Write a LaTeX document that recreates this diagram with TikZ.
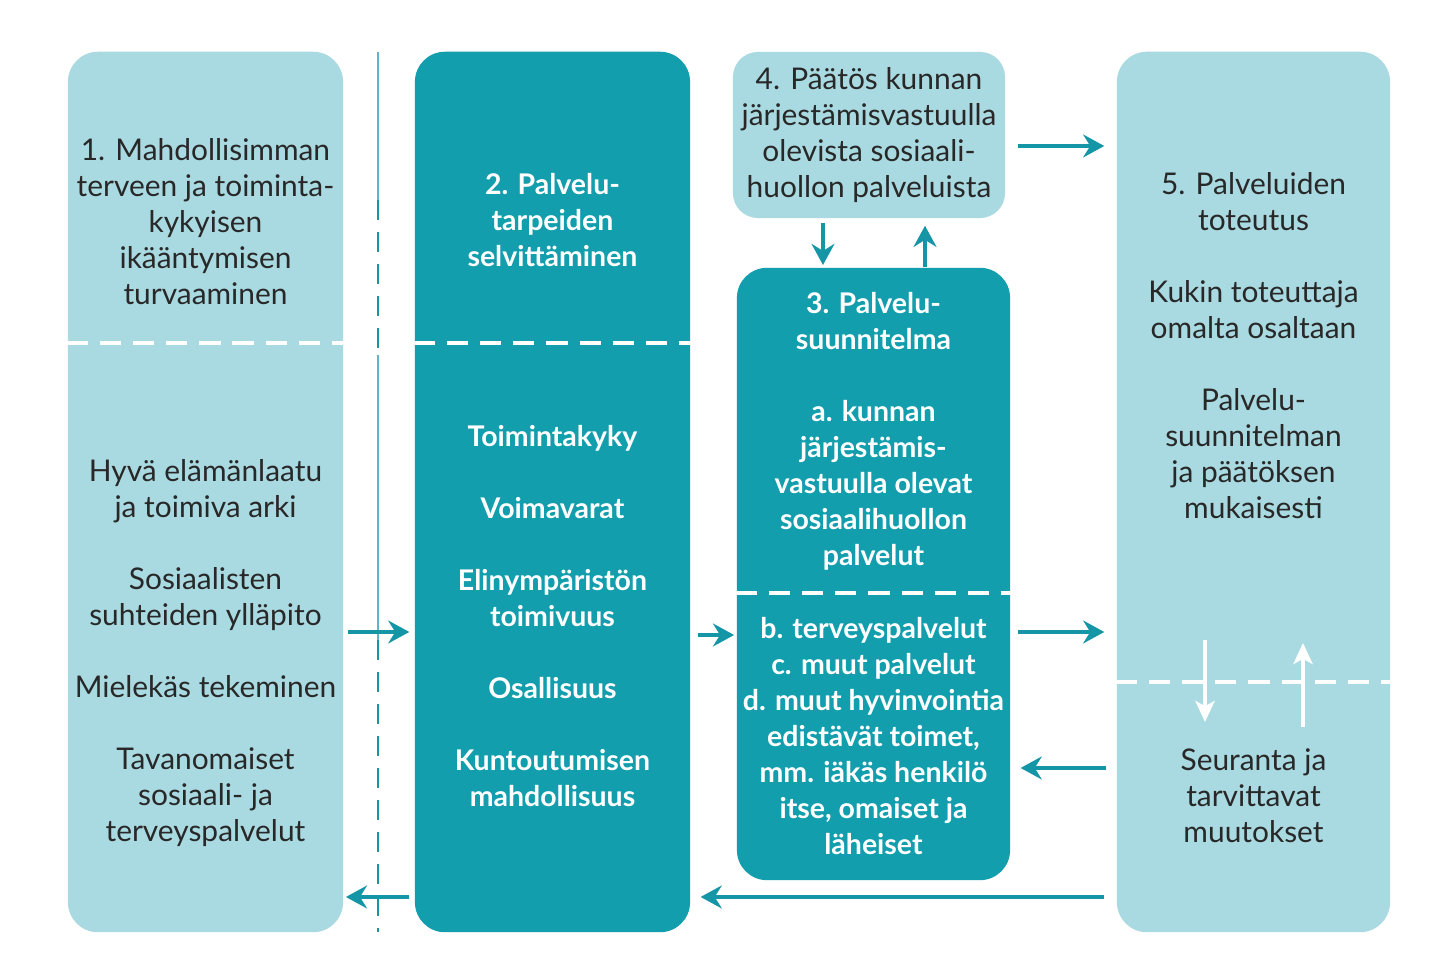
\documentclass[tikz,border=0pt]{standalone}
\usepackage{fontspec}
\setmainfont{Lato}
\usetikzlibrary{arrows.meta, positioning}

\definecolor{lightteal}{RGB}{170,218,225}
\definecolor{darkteal}{RGB}{18,158,172}
\definecolor{arrowteal}{RGB}{20,150,166}
\definecolor{lineblue}{RGB}{95,180,205}
\definecolor{textgray}{RGB}{40,40,40}

\begin{document}
\begin{tikzpicture}[x=0.01cm, y=-0.01cm,
    lightbox/.style={rectangle, fill=lightteal, rounded corners=0.3cm, inner sep=0pt},
    darkbox/.style={rectangle, fill=darkteal, rounded corners=0.3cm, inner sep=0pt},
    txt/.style={align=center, text=textgray, font=\fontsize{8.5}{10.24}\selectfont},
    wtxt/.style={align=center, text=white, font=\fontsize{8.1}{10.24}\selectfont\bfseries},
    divider/.style={white, line width=1.1pt, dash pattern=on 6pt off 3.4pt},
    conn/.style={arrowteal, line width=1.1pt, -{Stealth[length=6pt,width=6.5pt,inset=2pt]}},
    wconn/.style={white, line width=0.9pt, -{Stealth[length=6pt,width=5.5pt,inset=1.5pt]}}]

\fill[white] (0,0) rectangle (1432,971);
\useasboundingbox (0,0) rectangle (1432,971);

%boxes=================================================================
\node[lightbox, minimum width=2.75cm, minimum height=8.8cm] (b1) at (205.5,492) {};
\node[darkbox, minimum width=2.75cm, minimum height=8.8cm] (b2) at (552.5,492) {};
\node[lightbox, rounded corners=0.25cm, minimum width=2.72cm, minimum height=1.66cm] (b4) at (869,135) {};
\node[darkbox, minimum width=2.73cm, minimum height=6.12cm] (b3) at (873.5,574) {};
\node[lightbox, minimum width=2.73cm, minimum height=8.8cm] (b5) at (1253.5,492) {};

\draw[divider] (b1.west |- 0,343) -- (b1.east |- 0,343);
\draw[divider] (b2.west |- 0,343) -- (b2.east |- 0,343);
\draw[divider] (b3.west |- 0,593) -- (b3.east |- 0,593);
\draw[divider] (b5.west |- 0,682) -- (b5.east |- 0,682);

%separator line
\draw[lineblue, line width=0.6pt] (378,52) -- (378,200);
\draw[arrowteal, line width=0.6pt, dash pattern=on 5.7pt off 3.4pt] (378,200) -- (378,355);
\draw[lineblue, line width=0.6pt] (378,355) -- (378,640);
\draw[arrowteal, line width=0.6pt, dash pattern=on 5.7pt off 3.4pt] (378,640) -- (378,932);

%texts=================================================================
\node[txt] (t1a) at (b1.north |- 0,222) {1. Mahdollisimman\\terveen ja toiminta-\\kykyisen\\ikääntymisen\\turvaaminen};
\node[txt] (t1b) at (b1.north |- 0,653) {Hyvä elämänlaatu\\ja toimiva arki\\[10.24pt]Sosiaalisten\\suhteiden ylläpito\\[10.24pt]Mielekäs tekeminen\\[10.24pt]Tavanomaiset\\sosiaali- ja\\terveyspalvelut};

\node[wtxt] (t2a) at (b2.north |- 0,220) {2. Palvelu-\\tarpeiden\\selvittäminen};
\node[wtxt] (t2b) at (b2.north |- 0,616) {Toimintakyky\\[10.24pt]Voimavarat\\[10.24pt]Elinympäristön\\toimivuus\\[10.24pt]Osallisuus\\[10.24pt]Kuntoutumisen\\mahdollisuus};

\node[txt] (t4) at (b4.center) {4. Päätös kunnan\\järjestämisvastuulla\\olevista sosiaali-\\huollon palveluista};

\node[wtxt] (t3a) at (b3.north |- 0,431) {3. Palvelu-\\suunnitelma\\[10.24pt]a. kunnan\\järjestämis-\\vastuulla olevat\\sosiaalihuollon\\palvelut};
\node[wtxt] (t3b) at (b3.north |- 0,736) {b. terveyspalvelut\\c. muut palvelut\\d. muut hyvinvointia\\edistävät toimet,\\mm. iäkäs henkilö\\itse, omaiset ja\\läheiset};

\node[txt] (t5a) at (b5.north |- 0,346) {5. Palveluiden\\toteutus\\[10.24pt]Kukin toteuttaja\\omalta osaltaan\\[10.24pt]Palvelu-\\suunnitelman\\ja päätöksen\\mukaisesti};
\node[txt] (t5b) at (b5.north |- 0,796) {Seuranta ja\\tarvittavat\\muutokset};

%arrows================================================================
\draw[conn, shorten <=1.1pt, shorten >=1.4pt] (b1.east |- 0,632) -- (b2.west |- 0,632);
\draw[conn, shorten <=2pt, shorten >=0.6pt] (b2.east |- 0,635) -- (b3.west |- 0,635);
\draw[conn, shorten <=2pt, shorten >=3.4pt] (b3.east |- 0,632) -- (b5.west |- 0,632);
\draw[conn, shorten <=2.8pt, shorten >=2.8pt] (b5.west |- 0,768) -- (b3.east |- 0,768);
\draw[conn, shorten <=3.4pt, shorten >=2.8pt] (b5.west |- 0,897) -- (b2.east |- 0,897);
\draw[conn, shorten <=1.4pt, shorten >=0.6pt] (b2.west |- 0,897) -- (b1.east |- 0,897);
\draw[conn, shorten <=3.4pt, shorten >=3.4pt] (b4.east |- 0,146) -- (b5.west |- 0,146);
\draw[conn, shorten <=1.1pt, shorten >=0.6pt] (b4.south -| 823,0) -- (b3.north -| 823,0);
\draw[conn, shorten >=2pt] (b3.north -| 925,0) -- (b4.south -| 925,0);

\coordinate (d1) at (1205,640);
\coordinate (d2) at (1205,722);
\coordinate (u1) at (1303,727);
\coordinate (u2) at (1303,643);
\draw[wconn] (d1) -- (d2);
\draw[wconn] (u1) -- (u2);

\end{tikzpicture}
\end{document}
